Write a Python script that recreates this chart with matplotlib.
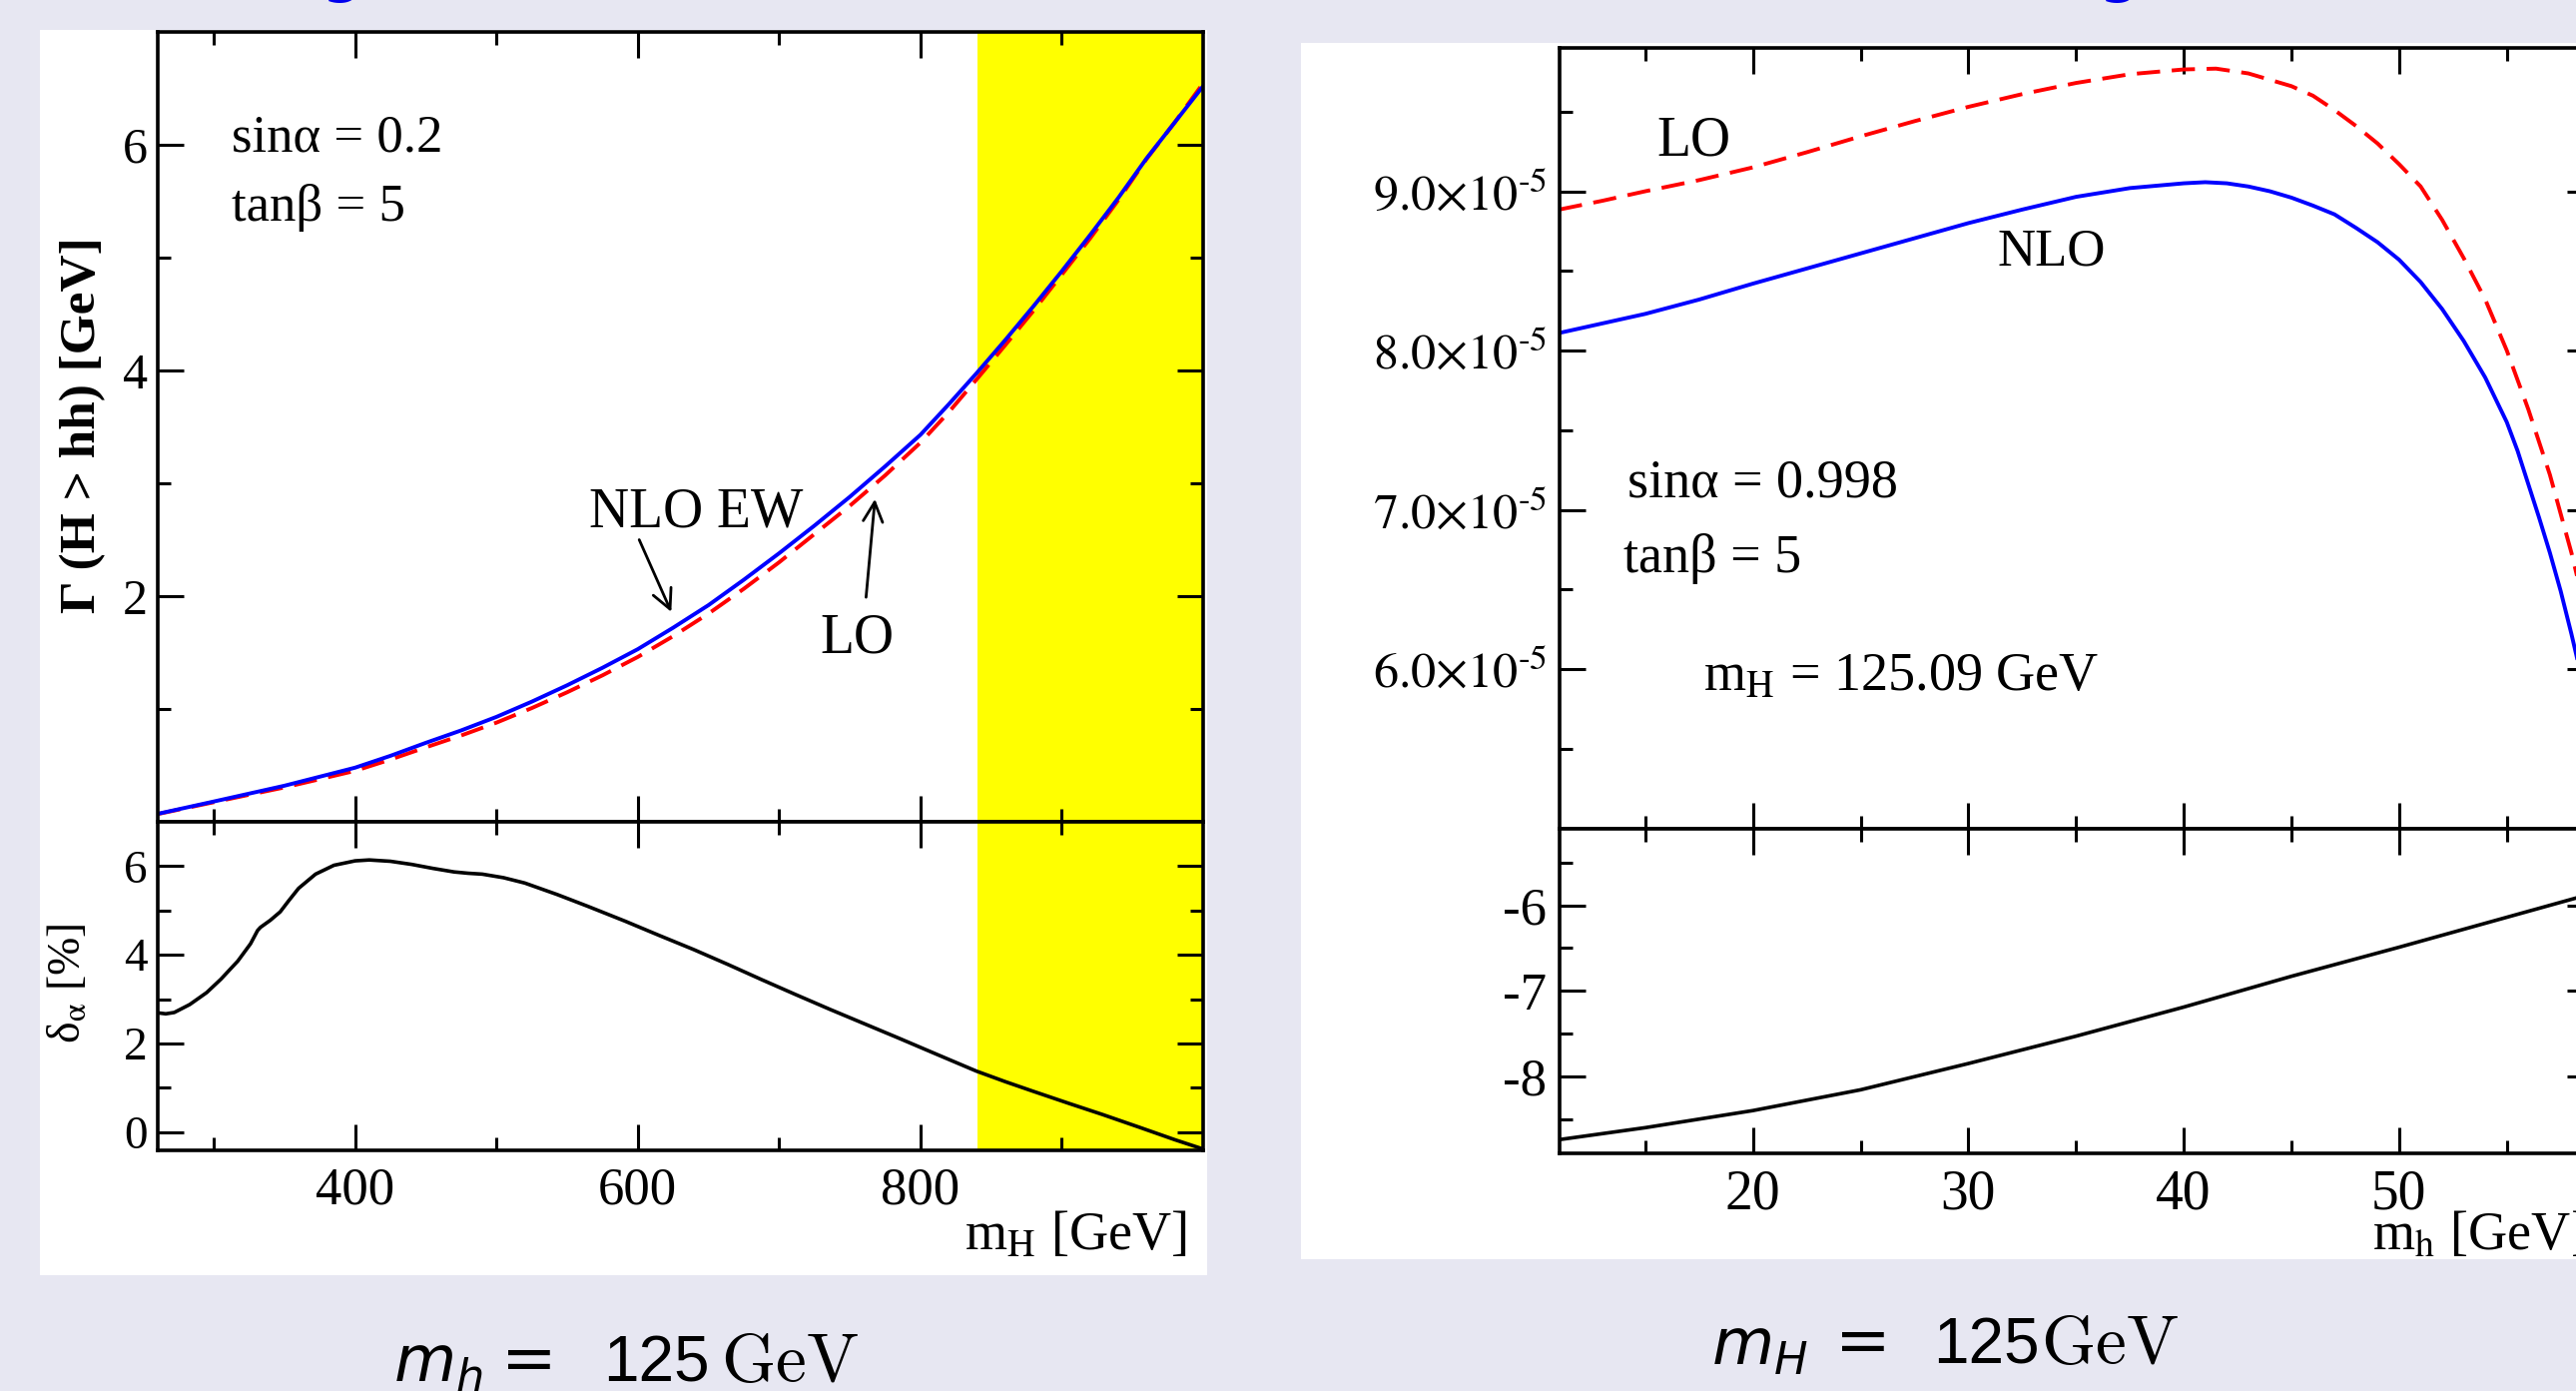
import numpy as np
import matplotlib
matplotlib.use("Agg")
import matplotlib.pyplot as plt
from matplotlib.ticker import FixedLocator, NullFormatter, FuncFormatter
from matplotlib.patches import Rectangle

W, H = 2580, 1393
plt.rcParams['font.family'] = ['Liberation Serif', 'DejaVu Serif']
plt.rcParams['mathtext.fontset'] = 'stix'
plt.rcParams['axes.unicode_minus'] = False

# left panel: Gamma(H -> hh) vs m_H, sin(alpha)=0.2
mH = [260, 280, 300, 325, 350, 375, 400, 425, 450, 475, 500, 525, 550, 575, 600, 625, 650,
      675, 700, 725, 750, 775, 800, 820, 840, 860, 880, 900, 920, 940, 960, 980, 1000]
gam_nlo = [0.07, 0.125, 0.18, 0.25, 0.32, 0.40, 0.48, 0.585, 0.70, 0.81, 0.93, 1.065, 1.21, 1.365,
           1.53, 1.72, 1.92, 2.145, 2.38, 2.625, 2.88, 3.15, 3.43, 3.70, 3.98, 4.27, 4.57, 4.88,
           5.20, 5.53, 5.88, 6.20, 6.52]
gam_lo = [0.068, 0.121, 0.174, 0.24, 0.305, 0.378, 0.452, 0.552, 0.66, 0.765, 0.879, 1.008, 1.148,
          1.298, 1.461, 1.645, 1.845, 2.065, 2.30, 2.55, 2.80, 3.07, 3.36, 3.63, 3.925, 4.225,
          4.53, 4.85, 5.17, 5.51, 5.875, 6.20, 6.545]
mH_d = [261, 266, 272, 283, 295, 305, 317, 326, 331, 333, 340, 347, 353, 360, 372, 385, 400, 410,
        425, 440, 455, 470, 480, 490, 505, 520, 543, 565, 591, 615, 639.5, 664, 687.7, 712, 736,
        760, 784, 812, 839.4, 860, 880, 905, 928.7, 955, 980, 1000]
delta_left = [2.69, 2.67, 2.70, 2.88, 3.15, 3.45, 3.86, 4.25, 4.55, 4.62, 4.78, 4.97, 5.22, 5.50,
              5.82, 6.02, 6.12, 6.14, 6.11, 6.04, 5.95, 5.87, 5.84, 5.82, 5.74, 5.62, 5.36, 5.09,
              4.76, 4.44, 4.12, 3.78, 3.44, 3.10, 2.77, 2.45, 2.13, 1.75, 1.38, 1.14, 0.92, 0.65,
              0.40, 0.11, -0.17, -0.38]
band = [840, 1000]

# right panel: Gamma(H -> hh) vs m_h, sin(alpha)=0.998 (units of 1e-5 GeV)
mh = [11, 13, 15, 17.5, 20, 22.5, 25, 27.5, 30, 32.5, 35, 37.5, 40, 41, 42, 43, 44, 45, 46, 47,
      48, 49, 50, 51, 52, 53, 54, 55, 55.5, 56, 56.5, 57, 57.5, 58, 58.5, 59]
nlo_r = [8.11, 8.17, 8.23, 8.32, 8.42, 8.515, 8.61, 8.705, 8.80, 8.885, 8.965, 9.02, 9.05, 9.057,
         9.05, 9.03, 9.00, 8.96, 8.91, 8.855, 8.77, 8.68, 8.57, 8.43, 8.26, 8.06, 7.83, 7.55,
         7.37, 7.16, 6.95, 6.73, 6.49, 6.22, 5.93, 5.63]
mh_lo = [11, 13, 15, 17.5, 20, 22.5, 25, 27.5, 30, 32.5, 35, 37.5, 40, 41.5, 43, 44, 45, 46, 47,
         48, 49, 50, 51, 52, 53, 54, 55, 56, 57, 58, 58.5, 59]
lo_r = [8.885, 8.94, 9.00, 9.07, 9.15, 9.245, 9.345, 9.44, 9.53, 9.61, 9.68, 9.735, 9.765, 9.77,
        9.74, 9.70, 9.66, 9.60, 9.51, 9.41, 9.30, 9.17, 9.03, 8.82, 8.58, 8.32, 8.00, 7.63, 7.22,
        6.73, 6.45, 6.15]
mh_d = [11, 15, 20, 25, 30, 35, 40, 45, 50, 55, 59]
delta_right = [-8.74, -8.60, -8.40, -8.157, -7.85, -7.53, -7.19, -6.83, -6.49, -6.14, -5.86]

fig = plt.figure(figsize=(W / 100, H / 100), dpi=100)
fig.patch.set_facecolor('#e7e7f2')


def fx(x):
    return x / W


def fy(y):
    return 1 - y / H


def box(x0, y0, x1, y1):
    return [fx(x0), fy(y1), (x1 - x0) / W, (y1 - y0) / H]


# white frames behind the two plots
fig.add_artist(Rectangle((fx(40), fy(1277)), (1209 - 40) / W, (1277 - 30) / H,
                         transform=fig.transFigure, facecolor='white', edgecolor='none', zorder=0))
fig.add_artist(Rectangle((fx(1303), fy(1261)), (2600 - 1303) / W, (1261 - 43) / H,
                         transform=fig.transFigure, facecolor='white', edgecolor='none', zorder=0))

axL1 = fig.add_axes(box(157.5, 32, 1205, 823))
axL2 = fig.add_axes(box(157.5, 823, 1205, 1151.6))
axR1 = fig.add_axes(box(1561.5, 48, 2597, 829.5))
axR2 = fig.add_axes(box(1561.5, 829.5, 2597, 1155))


def style(ax, xsize, ysize, xpad, ypad):
    ax.tick_params(which='both', direction='in', top=True, right=True, width=2.2)
    ax.tick_params(which='major', length=19)
    ax.tick_params(which='minor', length=9.5)
    ax.tick_params(axis='x', labelsize=xsize, pad=xpad)
    ax.tick_params(axis='y', labelsize=ysize, pad=ypad)
    for s in ax.spines.values():
        s.set_linewidth(2.6)
    ax.set_facecolor('white')


# ---- left top
axL1.axvspan(band[0], band[1], color='#ffff00', lw=0, zorder=0)
axL1.plot(mH, gam_lo, color='#ff0000', lw=2.8, dashes=(6, 3))
axL1.plot(mH, gam_nlo, color='#0000ff', lw=2.8)
axL1.set_xlim(260, 1000)
axL1.set_ylim(0, 7)
axL1.xaxis.set_major_locator(FixedLocator([400, 600, 800]))
axL1.xaxis.set_minor_locator(FixedLocator([300, 500, 700, 900]))
axL1.yaxis.set_major_locator(FixedLocator([2, 4, 6]))
axL1.yaxis.set_minor_locator(FixedLocator([1, 3, 5]))
axL1.xaxis.set_major_formatter(NullFormatter())
style(axL1, 38, 36, 12, 7)
axL1.annotate("", xy=(623.7, 1.86), xytext=(601, 2.50),
              arrowprops=dict(arrowstyle='->', lw=2, color='k', mutation_scale=35,
                              shrinkA=0, shrinkB=0))
axL1.annotate("", xy=(767.8, 2.86), xytext=(761.5, 1.99),
              arrowprops=dict(arrowstyle='->', lw=2, color='k', mutation_scale=35,
                              shrinkA=0, shrinkB=0))

# ---- left bottom
axL2.axvspan(band[0], band[1], color='#ffff00', lw=0, zorder=0)
axL2.plot(mH_d, delta_left, color='black', lw=2.6)
axL2.set_xlim(260, 1000)
axL2.set_ylim(-0.4, 7)
axL2.xaxis.set_major_locator(FixedLocator([400, 600, 800]))
axL2.xaxis.set_minor_locator(FixedLocator([300, 500, 700, 900]))
axL2.yaxis.set_major_locator(FixedLocator([0, 2, 4, 6]))
axL2.yaxis.set_minor_locator(FixedLocator([1, 3, 5]))
style(axL2, 38, 34, 12, 7)

# ---- right top
axR1.plot(mh_lo, np.array(lo_r) * 1e-5, color='#ff0000', lw=2.8, dashes=(6, 3))
axR1.plot(mh, np.array(nlo_r) * 1e-5, color='#0000ff', lw=2.8)
axR1.set_xlim(11, 59)
axR1.set_ylim(5.0e-5, 9.9e-5)
axR1.xaxis.set_major_locator(FixedLocator([20, 30, 40, 50]))
axR1.xaxis.set_minor_locator(FixedLocator([15, 25, 35, 45, 55]))
axR1.yaxis.set_major_locator(FixedLocator([6e-5, 7e-5, 8e-5, 9e-5]))
axR1.yaxis.set_minor_locator(FixedLocator([5.5e-5, 6.5e-5, 7.5e-5, 8.5e-5, 9.5e-5]))
axR1.yaxis.set_major_formatter(
    FuncFormatter(lambda v, p: r"$%.1f{\times}10^{\text{-}5}$" % (v * 1e5)))
axR1.xaxis.set_major_formatter(NullFormatter())
style(axR1, 40, 36, 11, 9)

# ---- right bottom
axR2.plot(mh_d, delta_right, color='black', lw=2.6)
axR2.set_xlim(11, 59)
axR2.set_ylim(-8.9, -5.1)
axR2.xaxis.set_major_locator(FixedLocator([20, 30, 40, 50]))
axR2.xaxis.set_minor_locator(FixedLocator([15, 25, 35, 45, 55]))
axR2.yaxis.set_major_locator(FixedLocator([-8, -7, -6]))
axR2.yaxis.set_minor_locator(FixedLocator([-8.5, -7.5, -6.5, -5.5]))
style(axR2, 40, 38, 11, 9)

# ---- texts, left
fig.text(fx(232), fy(152), "sinα = 0.2", fontsize=38, va='baseline')
fig.text(fx(232), fy(221), "tanβ = 5", fontsize=38, va='baseline')
fig.text(fx(590), fy(527), "NLO EW", fontsize=40, va='baseline')
fig.text(fx(821), fy(654), "LO", fontsize=40, va='baseline')
fig.text(fx(83), fy(426), "Γ (H > hh) [GeV]", fontsize=37, rotation=90, ha='center',
         va='center', fontweight='bold')
fig.text(fx(68), fy(985), r"δ$_{\mathrm{α}}$ [%]", fontsize=33, rotation=90, ha='center',
         va='center')
fig.text(fx(966), fy(1252), r"m$_\mathrm{H}$ [GeV]", fontsize=39, va='baseline')

# ---- texts, right
fig.text(fx(1659), fy(155), "LO", fontsize=40, va='baseline')
fig.text(fx(2001), fy(265), "NLO", fontsize=38, va='baseline')
fig.text(fx(1630), fy(498), "sinα = 0.998", fontsize=39, va='baseline')
fig.text(fx(1626), fy(573), "tanβ = 5", fontsize=39, va='baseline')
fig.text(fx(1706), fy(692), r"m$_\mathrm{H}$ = 125.09 GeV", fontsize=39, va='baseline')
fig.text(fx(2376), fy(1252), r"m$_\mathrm{h}$ [GeV]", fontsize=39, va='baseline')

# ---- captions under the plots: (m start, '=' centre, '125' start, 'GeV' start, baseline)
captions = [('h', 394, 530, 604, 722, 1383), ('H', 1714, 1866, 1936, 2044, 1365)]
for sub, xm, xeq, xn, xg, yb in captions:
    fig.text(fx(xm), fy(yb), r"$m_%s$" % sub, fontsize=46, va='baseline',
             math_fontfamily='dejavusans')
    fig.text(fx(xeq), fy(yb), "=", fontsize=48, va='baseline', ha='center',
             family='DejaVu Sans')
    fig.text(fx(xn), fy(yb), "125", fontsize=46, va='baseline', family='Liberation Sans')
    fig.text(fx(xg), fy(yb), r"$\mathrm{GeV}$", fontsize=50, va='baseline',
             math_fontfamily='cm')

# bits of the blue slide title cut off at the top
for xb in [342, 2122]:
    fig.text(fx(xb), fy(-9), "g", fontsize=40, color='#0000ee', ha='center', va='baseline',
             family='DejaVu Sans', fontweight='bold')

fig.savefig("out.png", dpi=100, facecolor=fig.get_facecolor())
